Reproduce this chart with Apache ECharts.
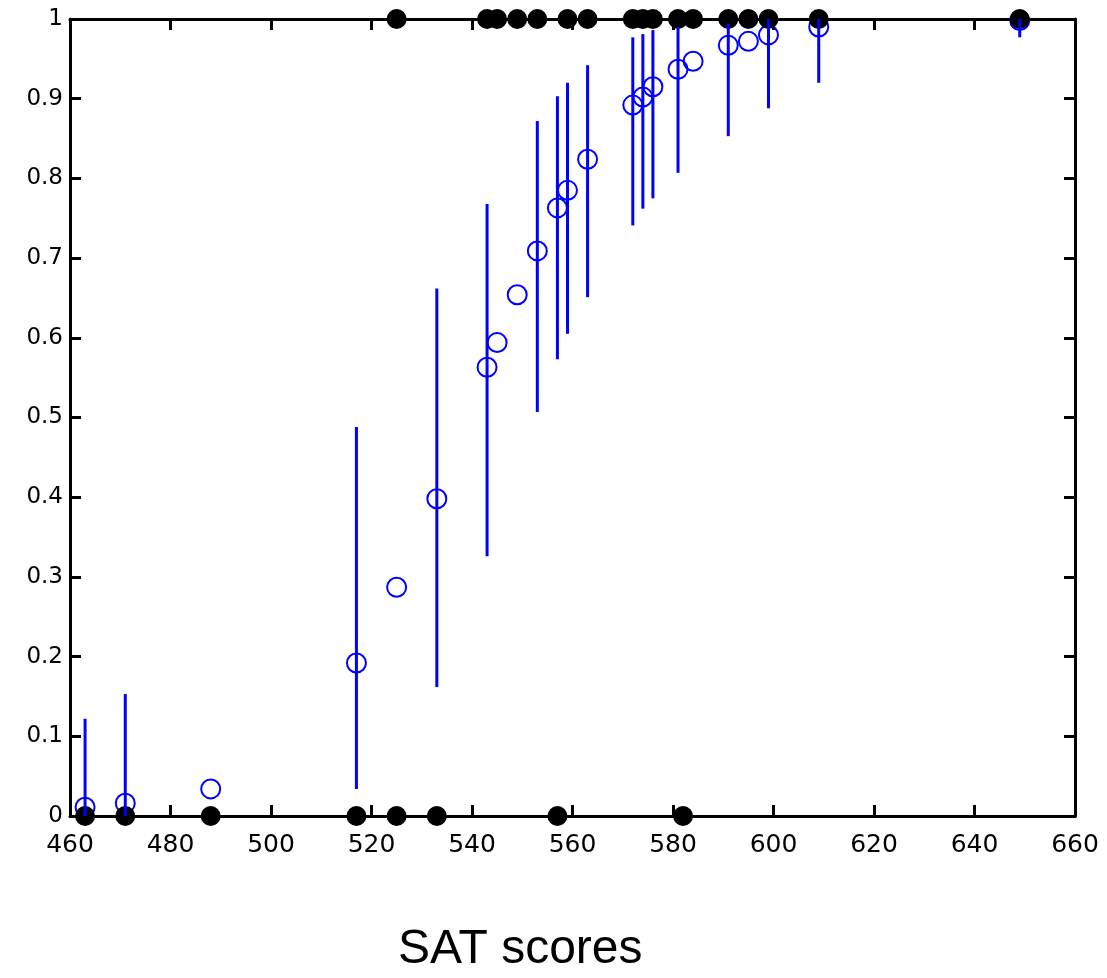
<!DOCTYPE html>
<html>
<head>
<meta charset="utf-8">
<script src="https://cdn.jsdelivr.net/npm/echarts@6/dist/echarts.min.js"></script>
<style>
  html, body { margin: 0; padding: 0; background: #fff; }
</style>
</head>
<body>
<div id="main" style="width:1107px;height:978px;"></div>
<script>
// observed outcomes (0 = fail, 1 = pass)
var zeroX = [463, 471, 488, 517, 525, 533, 557, 582];
var oneX = [525, 543, 545, 549, 553, 559, 563, 572, 574, 576, 581, 584, 591, 595, 599, 609, 649];

// posterior mean of p(pass | x)
var fitX = [463, 471, 488, 517, 525, 533, 543, 545, 549, 553, 557, 559, 563, 572, 574, 576, 581, 584, 591, 595, 599, 609, 649];
var fitP = [0.011, 0.016, 0.034, 0.192, 0.287, 0.398, 0.563, 0.594, 0.654, 0.709, 0.763, 0.785, 0.824, 0.892, 0.902, 0.915, 0.937, 0.947, 0.967, 0.972, 0.980, 0.990, 0.998];

// credible intervals
var barX  = [463, 471, 517, 533, 543, 553, 557, 559, 563, 572, 574, 576, 581, 591, 599, 609, 649];
var barLo = [0, 0, 0.034, 0.162, 0.326, 0.507, 0.573, 0.605, 0.651, 0.741, 0.762, 0.775, 0.807, 0.853, 0.888, 0.920, 0.977];
var barHi = [0.122, 0.153, 0.488, 0.662, 0.768, 0.872, 0.903, 0.920, 0.942, 0.977, 0.981, 0.986, 0.990, 0.994, 1.0, 1.0, 1.0];

var xLabel = 'SAT scores';

var chart = echarts.init(document.getElementById('main'));

var tickStyle = { show: true, inside: true, length: 11, lineStyle: { color: '#000', width: 3 } };
var lineStyle = { show: true, onZero: false, lineStyle: { color: '#000', width: 3 } };

var option = {
  animation: false,
  grid: { left: 70, right: 32, top: 19, bottom: 162, show: false },
  xAxis: [
    {
      type: 'value', min: 460, max: 660, interval: 20, position: 'bottom',
      axisLine: lineStyle, axisTick: tickStyle, splitLine: { show: false },
      axisLabel: { color: '#000', fontFamily: 'DejaVu Sans', fontSize: 25, margin: 17 }
    },
    {
      type: 'value', min: 460, max: 660, interval: 20, position: 'top',
      axisLine: lineStyle, axisTick: tickStyle, splitLine: { show: false },
      axisLabel: { show: false }
    }
  ],
  yAxis: [
    {
      type: 'value', min: 0, max: 1, interval: 0.1, position: 'left',
      axisLine: lineStyle, axisTick: tickStyle, splitLine: { show: false },
      axisLabel: {
        color: '#000', fontFamily: 'DejaVu Sans', fontSize: 23, margin: 7,
        formatter: function (v) { return String(+v.toFixed(1)); }
      }
    },
    {
      type: 'value', min: 0, max: 1, interval: 0.1, position: 'right',
      axisLine: lineStyle, axisTick: tickStyle, splitLine: { show: false },
      axisLabel: { show: false }
    }
  ],
  graphic: [
    {
      type: 'text', left: 398, top: 926,
      style: { text: xLabel, font: '48px "Liberation Sans", Arial, sans-serif', fill: '#000' }
    }
  ],
  series: [
    {
      name: 'fit', type: 'scatter', z: 2, clip: false,
      symbol: 'circle', symbolSize: 19,
      itemStyle: { color: 'rgba(0,0,0,0)', borderColor: '#0000ff', borderWidth: 2, opacity: 1 },
      data: fitX.map(function (x, i) { return [x, fitP[i]]; })
    },
    {
      name: 'zeros', type: 'scatter', z: 3, clip: false,
      symbol: 'circle', symbolSize: 20,
      itemStyle: { color: '#000', opacity: 1 },
      data: zeroX.map(function (x) { return [x, 0]; })
    },
    {
      name: 'ones', type: 'scatter', z: 3, clip: false,
      symbol: 'circle', symbolSize: 20,
      itemStyle: { color: '#000', opacity: 1 },
      data: oneX.map(function (x) { return [x, 1]; })
    },
    {
      name: 'interval', type: 'custom', z: 4,
      renderItem: function (params, api) {
        var p0 = api.coord([api.value(0), api.value(1)]);
        var p1 = api.coord([api.value(0), api.value(2)]);
        return {
          type: 'line',
          shape: { x1: p0[0], y1: p0[1], x2: p1[0], y2: p1[1] },
          style: { stroke: '#0000ff', lineWidth: 3 }
        };
      },
      data: barX.map(function (x, i) { return [x, barLo[i], barHi[i]]; })
    }
  ]
};

chart.setOption(option);
</script>
</body>
</html>
